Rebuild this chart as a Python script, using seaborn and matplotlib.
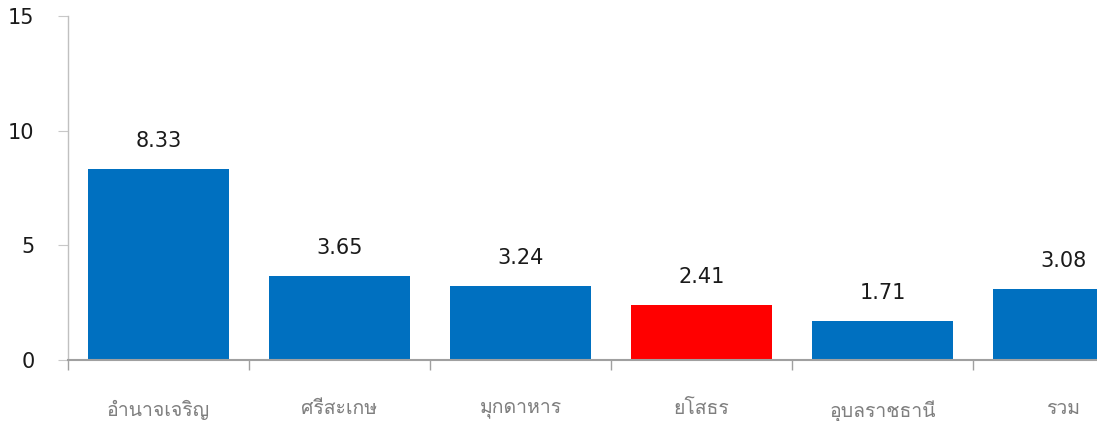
import numpy as np
import matplotlib
matplotlib.use('Agg')
import matplotlib.pyplot as plt
from matplotlib import font_manager, ft2font
import seaborn as sns

# ข้อมูลจากภาพ
จังหวัด = ['อำนาจเจริญ', 'ศรีสะเกษ', 'มุกดาหาร', 'ยโสธร', 'อุบลราชธานี', 'รวม']
ค่า = [8.33, 3.65, 3.24, 2.41, 1.71, 3.08]
สี = ['#0070C0', '#0070C0', '#0070C0', '#FF0000', '#0070C0', '#0070C0']


def find_thai_font():
    # หาฟอนต์ที่มีอักษรไทย
    for f in font_manager.fontManager.ttflist:
        try:
            cmap = ft2font.FT2Font(f.fname).get_charmap()
        except Exception:
            continue
        if 0x0E2D in cmap and 0x0E33 in cmap:
            return f.name
    return None


sns.set_style('white')
thai = find_thai_font()
families = ([thai] if thai else []) + ['DejaVu Sans']
plt.rcParams['font.family'] = families

fig = plt.figure(figsize=(10.97, 4.21), dpi=100)
ax = fig.add_axes([68 / 1097, 61 / 421, 1086 / 1097, 344 / 421])

sns.barplot(x=จังหวัด, y=ค่า, hue=จังหวัด, palette=สี, legend=False,
            width=0.78, saturation=1, linewidth=0, ax=ax)

for c in ax.containers:
    ax.bar_label(c, fmt='%.2f', padding=13, fontsize=15, color='#1a1a1a',
                 family=['DejaVu Sans'])

ax.set_xlim(-0.5, 5.5)
ax.set_ylim(0, 15)
ax.set_yticks([0, 5, 10, 15])
ax.set_xlabel('')
ax.set_ylabel('')

for s in ['top', 'right']:
    ax.spines[s].set_visible(False)
ax.spines['left'].set_color('#c0c0c0')
ax.spines['left'].set_linewidth(1)
ax.spines['bottom'].set_color('#a0a0a0')
ax.spines['bottom'].set_linewidth(1.5)

ax.tick_params(axis='y', left=True, length=7, width=0.8, color='#c8c8c8',
               pad=17, labelsize=15, labelcolor='#1a1a1a')
for t in ax.get_yticklabels():
    t.set_family(['DejaVu Sans'])
ax.tick_params(axis='x', which='major', bottom=True, length=0, pad=29,
               labelsize=14, labelcolor='#7f7f7f')
ax.set_xticks(np.arange(-0.5, 6, 1), minor=True)
ax.tick_params(axis='x', which='minor', bottom=True, length=7, width=1,
               color='#a0a0a0', direction='out')

fig.savefig('out.png', dpi=100)
